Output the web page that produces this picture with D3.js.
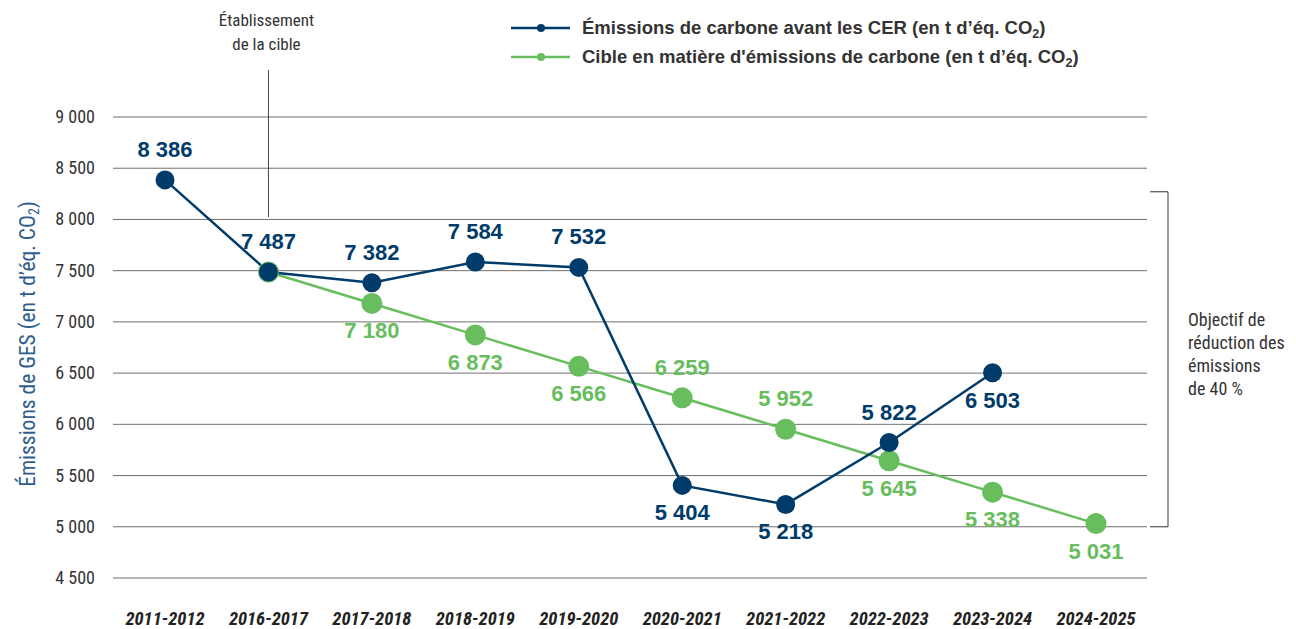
<!doctype html>
<html>
<head>
<meta charset="UTF-8">
<script src="https://d3js.org/d3.v7.min.js"></script>
<style>
  body { margin: 0; background: #fff; }
  .narrow { font-family: "Liberation Sans Narrow", "Arial Narrow", "Roboto Condensed", sans-serif; }
  .bold { font-family: "Liberation Sans", Arial, sans-serif; font-weight: bold; }
</style>
</head>
<body>
<svg width="1296" height="629"></svg>
<script>
// data
const years = ["2011-2012", "2016-2017", "2017-2018", "2018-2019", "2019-2020",
               "2020-2021", "2021-2022", "2022-2023", "2023-2024", "2024-2025"];
const emissions = [8386, 7487, 7382, 7584, 7532, 5404, 5218, 5822, 6503, null];
const target = [null, 7487, 7180, 6873, 6566, 6259, 5952, 5645, 5338, 5031];
const yTicks = [4500, 5000, 5500, 6000, 6500, 7000, 7500, 8000, 8500, 9000];
// label placement: 1 = above, -1 = below
const emissionsLabelSide = [1, 1, 1, 1, 1, -1, -1, 1, -1, 0];
const targetLabelSide = [0, 0, -1, -1, -1, 1, 1, -1, -1, -1];

const blue = "#003b6a";
const green = "#68bd5e";

const svg = d3.select("svg");
const fmt = v => d3.format(",")(v).replace(",", " ");

const x = d3.scalePoint().domain(years).range([165, 1096]);
const y = d3.scaleLinear().domain([4500, 9000]).range([578, 117]);

// gridlines
svg.append("g").selectAll("line")
  .data(yTicks).enter().append("line")
  .attr("x1", 113).attr("x2", 1147)
  .attr("y1", d => y(d)).attr("y2", d => y(d))
  .attr("stroke", "#6f6f6f").attr("stroke-width", 1);

// y axis labels
svg.append("g").selectAll("text")
  .data(yTicks).enter().append("text")
  .attr("class", "narrow")
  .attr("x", 95).attr("y", d => y(d) + 6)
  .attr("text-anchor", "end")
  .attr("font-size", 18).attr("fill", "#333")
  .text(d => fmt(d));

// y axis title
const yt = svg.append("text")
  .attr("class", "narrow")
  .attr("transform", "translate(35,344) rotate(-90)")
  .attr("text-anchor", "middle")
  .attr("font-size", 21.5).attr("fill", "#2e5d8c");
yt.append("tspan").text("Émissions de GES (en t d’éq. CO");
yt.append("tspan").attr("font-size", 14).attr("dy", 4).text("2");
yt.append("tspan").attr("dy", -4).text(")");

// x labels
svg.append("g").selectAll("text")
  .data(years).enter().append("text")
  .attr("class", "narrow")
  .attr("x", d => x(d)).attr("y", 625)
  .attr("text-anchor", "middle")
  .attr("font-size", 18.5).attr("font-weight", "bold").attr("font-style", "italic")
  .attr("fill", "#222")
  .text(d => d);

// target establishment marker
svg.append("line")
  .attr("x1", x("2016-2017")).attr("x2", x("2016-2017"))
  .attr("y1", 70).attr("y2", 217)
  .attr("stroke", "#444").attr("stroke-width", 1);
svg.append("text").attr("class", "narrow")
  .attr("x", x("2016-2017") - 2).attr("y", 26)
  .attr("text-anchor", "middle").attr("font-size", 17).attr("fill", "#333")
  .text("Établissement");
svg.append("text").attr("class", "narrow")
  .attr("x", x("2016-2017") - 2).attr("y", 50)
  .attr("text-anchor", "middle").attr("font-size", 17).attr("fill", "#333")
  .text("de la cible");

// bracket
svg.append("path")
  .attr("d", `M1150,${y(8270)}H1168V${y(5000)}H1150`)
  .attr("fill", "none").attr("stroke", "#333").attr("stroke-width", 1);
["Objectif de", "réduction des", "émissions", "de 40 %"].forEach((t, i) => {
  svg.append("text").attr("class", "narrow")
    .attr("x", 1188).attr("y", 326 + i * 23)
    .attr("font-size", 18).attr("fill", "#333").text(t);
});

// lines
const line = d3.line()
  .defined(d => d[1] != null)
  .x(d => x(d[0])).y(d => y(d[1]));

svg.append("path")
  .datum(years.map((yr, i) => [yr, target[i]]))
  .attr("d", line).attr("fill", "none")
  .attr("stroke", green).attr("stroke-width", 2.5);

svg.append("path")
  .datum(years.map((yr, i) => [yr, emissions[i]]))
  .attr("d", line).attr("fill", "none")
  .attr("stroke", blue).attr("stroke-width", 2.5);

// points
svg.append("g").selectAll("circle")
  .data(years.map((yr, i) => [yr, target[i]]).filter(d => d[1] != null))
  .enter().append("circle")
  .attr("cx", d => x(d[0])).attr("cy", d => y(d[1]))
  .attr("r", 10.5).attr("fill", green);

svg.append("g").selectAll("circle")
  .data(years.map((yr, i) => [yr, emissions[i]]).filter(d => d[1] != null))
  .enter().append("circle")
  .attr("cx", d => x(d[0])).attr("cy", d => y(d[1]))
  .attr("r", 9.5).attr("fill", blue);

// value labels
function labels(values, sides, color) {
  svg.append("g").selectAll("text")
    .data(years.map((yr, i) => [yr, values[i], sides[i]]).filter(d => d[1] != null && d[2] !== 0))
    .enter().append("text")
    .attr("class", "bold")
    .attr("x", d => x(d[0]))
    .attr("y", d => y(d[1]) + (d[2] > 0 ? -23 : 35))
    .attr("text-anchor", "middle")
    .attr("font-size", 22).attr("fill", color)
    .text(d => fmt(d[1]));
}
labels(emissions, emissionsLabelSide, blue);
labels(target, targetLabelSide, green);

// legend
const legend = [
  ["Émissions de carbone avant les CER (en t d’éq. CO", blue],
  ["Cible en matière d'émissions de carbone (en t d’éq. CO", green]
];
legend.forEach((l, i) => {
  const ly = 28 + i * 29;
  svg.append("line").attr("x1", 511).attr("x2", 570).attr("y1", ly).attr("y2", ly)
    .attr("stroke", l[1]).attr("stroke-width", 2.5);
  svg.append("circle").attr("cx", 541).attr("cy", ly).attr("r", 4).attr("fill", l[1]);
  const t = svg.append("text").attr("class", "bold")
    .attr("x", 582).attr("y", ly + 6).attr("font-size", 18.5).attr("fill", "#333");
  t.append("tspan").text(l[0]);
  t.append("tspan").attr("font-size", 12.5).attr("dy", 4).text("2");
  t.append("tspan").attr("dy", -4).text(")");
});
</script>
</body>
</html>
